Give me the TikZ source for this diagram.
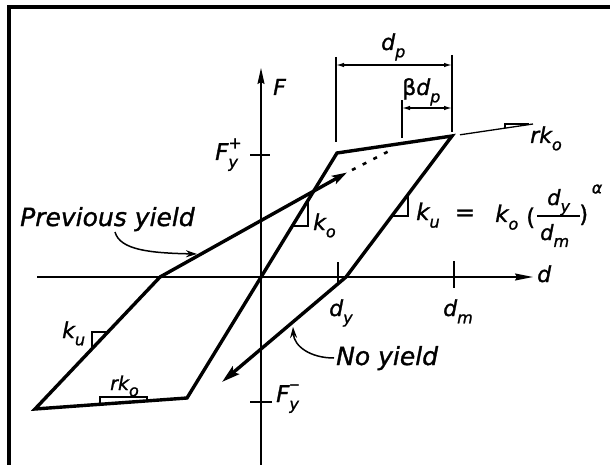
\documentclass[tikz,border=0pt]{standalone}
\usepackage{fontspec}
\setmainfont{DejaVu Sans}[ItalicFeatures={FakeBold=1.2},UprightFeatures={FakeBold=1.2}]
\usetikzlibrary{arrows.meta}
\newcommand\sbs[1]{\raisebox{-0.33em}{\fontsize{16}{16}\selectfont #1}}
\newcommand\sps[1]{\raisebox{0.5em}{\fontsize{16}{16}\selectfont #1}}
\begin{document}
\begin{tikzpicture}[x=1pt,y=-1pt,
  lbl/.style={inner sep=0pt,anchor=base west,font=\fontsize{22}{22}\selectfont\itshape},
  txt/.style={inner sep=0pt,anchor=base west,font=\fontsize{25}{25}\selectfont\itshape},
  axisline/.style={line width=1.5pt},
  loopline/.style={line width=3.4pt,line join=miter,line cap=round},
  thinline/.style={line width=1.3pt},
  dimarrow/.style={thinline,{Latex[length=8pt,width=4.5pt]}-{Latex[length=8pt,width=4.5pt]}},
  leader/.style={line width=1.5pt,-{Stealth[length=11pt,width=7pt]}}
]
\fill[white] (0,0) rectangle (610,465);
\useasboundingbox (0,0) rectangle (610,465);
% frame
\draw[line width=4pt] (9,465) -- (9,7) -- (610,7);

% key points
\coordinate (BL) at (35,409);
\coordinate (B2) at (187,398);
\coordinate (Y) at (337,153);
\coordinate (P) at (452,136);
\coordinate (K2) at (346,277);
\coordinate (T1) at (222,382);
\coordinate (K1) at (160,277);
\coordinate (A1) at (347,172.5);
\coordinate (A2) at (352,170);
\coordinate (D1) at (393,149);

% axes
\coordinate (Fb) at (261,465);
\coordinate (Ft) at (261,68);
\coordinate (dl) at (37,277);
\coordinate (dr) at (533,277);
\draw[axisline,-{Stealth[length=16pt,width=7pt,inset=2pt]}] (Fb) -- (Ft);
\draw[axisline,-{Stealth[length=18pt,width=7pt,inset=2pt]}] (dl) -- (dr);

% ticks
\draw[thinline] (250,155) -- (270,155);
\draw[thinline] (250,402) -- (272,402);
\draw[thinline] (338,262) -- (338,284);
\draw[thinline] (454,261) -- (454,288);

% loop
\draw[loopline,-{Stealth[length=18pt,width=10pt,inset=3pt]}] (K1) -- (BL) -- (B2) -- (Y) -- (P) -- (K2) -- (T1);
\draw[loopline,-{Stealth[length=15pt,width=9pt,inset=3pt]}] (K1) -- (A1);
\draw[line width=2.6pt,dash pattern=on 4pt off 8pt] (A2) -- (D1);

% slope markers
\draw[thinline] (108,332) -- (92,332) -- (92,349);
\draw[thinline] (292.3,226) -- (308,226) -- (308,200.4);
\draw[thinline] (391.8,216) -- (408,216) -- (408,194.5);
\draw[thinline] (100,404.3) -- (100,397) -- (147,397) -- (147,401);
\draw[thinline] (460,134.8) -- (533,124);
\draw[thinline] (505,128.2) -- (505,124) -- (529,124);

% dimensions
\draw[thinline] (336,57) -- (336,142);
\draw[thinline] (452,55) -- (452,132);
\draw[thinline] (402,100) -- (402,138);
\draw[dimarrow] (336,65) -- (452,65);
\draw[dimarrow] (402,108) -- (452,108);

% labels
\node[lbl] (lF) at (273,95) {F};
\node[lbl] (ld) at (537,282) {d};
\node[lbl,font=\fontsize{23}{23}\selectfont\itshape] (lFyp) at (215,160) {F\rlap{\sps{+}}\sbs{y}};
\node[lbl,font=\fontsize{23}{23}\selectfont\itshape] (lFym) at (276,402) {F\rlap{\sps{\upshape\fontsize{20}{20}\selectfont –}}\sbs{y}};
\node[lbl] (ldy) at (329,316) {d\sbs{y}};
\node[lbl] (ldm) at (443,316) {d\sbs{m}};
\node[lbl] (lku) at (62,338) {k\sbs{u}};
\node[lbl] (lko) at (313,230) {k\sbs{o}};
\node[lbl,font=\fontsize{19}{19}\selectfont\itshape] (lrko1) at (110,390) {rk\sbs{o}};
\node[lbl] (lrko2) at (530,143) {rk\sbs{o}};
\node[lbl] (lbdp) at (402,95) {{\upshape β}d\sbs{p}};
\node[lbl] (ldp) at (381,50) {d\sbs{p}};

% formula
\node[lbl,font=\fontsize{23}{23}\selectfont\itshape] (fku) at (416,220) {k\sbs{u}};
\node[inner sep=0pt,font=\fontsize{24}{24}\selectfont] (feq) at (465,215) {=};
\node[lbl,font=\fontsize{23}{23}\selectfont\itshape] (fko) at (495,222) {k\sbs{o}};
\node[lbl,font=\fontsize{23}{23}\selectfont] (fpl) at (526,225) {(};
\node[lbl,font=\fontsize{21}{21}\selectfont\itshape] (fnum) at (547,205) {d\sbs{y}};
\draw[line width=1.5pt] (537,216) -- (580,216);
\node[lbl,font=\fontsize{21}{21}\selectfont\itshape] (fden) at (540,240) {d\sbs{m}};
\node[lbl,font=\fontsize{23}{23}\selectfont] (fpr) at (579,222) {)};
\node[inner sep=0pt,font=\fontsize{16}{16}\selectfont\itshape] (falpha) at (597,189) {α};

% text labels and leaders
\node[txt] (tprev) at (20,226) {Previous yield};
\node[txt] (tno) at (336,365) {No yield};
\coordinate (lp1) at (115,232);
\coordinate (lp2) at (197,254);
\coordinate (ln1) at (334,358);
\coordinate (ln2) at (293,327);
\draw[leader] (lp1) .. controls (120,250) and (150,253) .. (lp2);
\draw[leader] (ln1) .. controls (310,358) and (294,346) .. (ln2);
\end{tikzpicture}
\end{document}
